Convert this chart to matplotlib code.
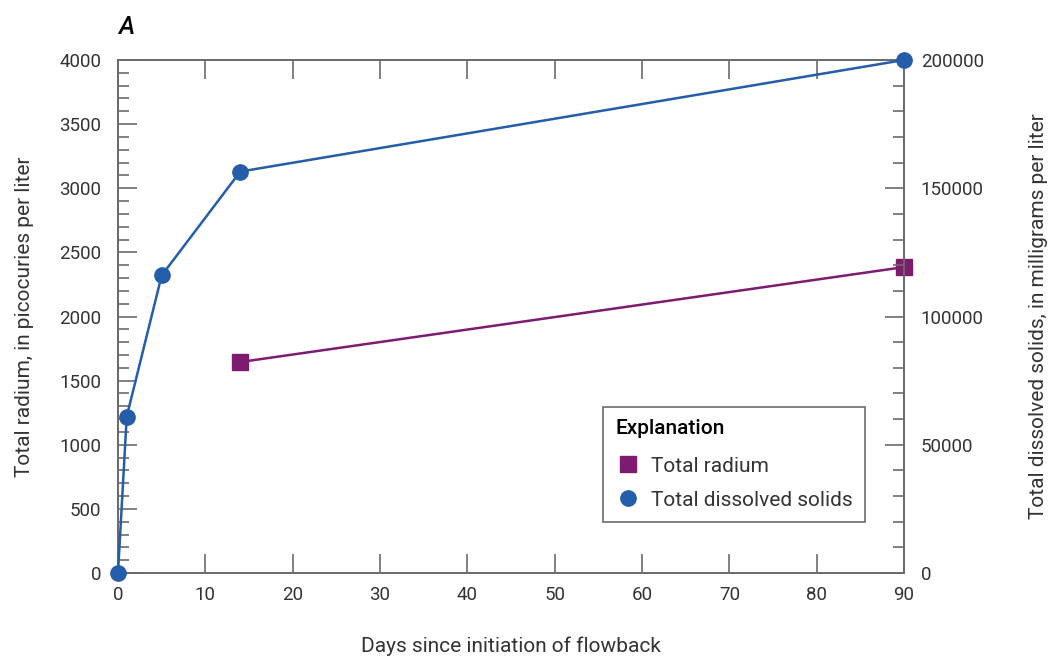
import matplotlib
matplotlib.use("Agg")
import matplotlib.pyplot as plt
from matplotlib.ticker import MultipleLocator
from matplotlib.lines import Line2D

# Data
tds_days = [0, 1, 5, 14, 90]
tds_values = [0, 61000, 116000, 156500, 200000]
radium_days = [14, 90]
radium_values = [1645, 2385]

x_ticks = [0, 10, 20, 30, 40, 50, 60, 70, 80, 90]
left_ticks = [0, 500, 1000, 1500, 2000, 2500, 3000, 3500, 4000]
right_ticks = [0, 50000, 100000, 150000, 200000]

blue = "#245DAA"
purple = "#7D1B6E"
gray = "#6b6b6b"
textc = "#333333"

plt.rcParams['font.family'] = ['Roboto', 'DejaVu Sans']
plt.rcParams['font.size'] = 14

fig = plt.figure(figsize=(10.49, 6.59), dpi=100)
ax = fig.add_axes([118/1049, 1-573/659, (904-118)/1049, (573-60)/659])
ax2 = ax.twinx()

ax.set_xlim(0, 90)
ax.set_ylim(0, 4000)
ax2.set_ylim(0, 200000)

ax.set_xticks(x_ticks)
ax.set_yticks(left_ticks)
ax.yaxis.set_minor_locator(MultipleLocator(100))
ax2.set_yticks(right_ticks)
ax2.yaxis.set_minor_locator(MultipleLocator(10000))

tick_fs = 13.5
ax.tick_params(axis='x', which='major', direction='in', length=14, width=1.2,
               color=gray, top=True, labelcolor=textc, labelsize=tick_fs, pad=9)
ax.tick_params(axis='y', which='major', direction='in', length=14, width=1.2,
               color=gray, labelcolor=textc, labelsize=tick_fs, pad=12)
ax.tick_params(axis='y', which='minor', direction='in', length=8, width=1.2, color=gray)
ax2.tick_params(axis='y', which='major', direction='in', length=14, width=1.2,
                color=gray, labelcolor=textc, labelsize=tick_fs, pad=12)
ax2.tick_params(axis='y', which='minor', direction='in', length=8, width=1.2, color=gray)

for a in (ax, ax2):
    for s in a.spines.values():
        s.set_color(gray)
        s.set_linewidth(1.3)

ax.plot(radium_days, radium_values, color=purple, lw=1.8, marker='s',
        markersize=11, clip_on=False, zorder=5)
ax2.plot(tds_days, tds_values, color=blue, lw=1.8, marker='o',
         markersize=11, clip_on=False, zorder=5)

lab_fs = 15
ax.set_xlabel("Days since initiation of flowback", color=textc, fontsize=lab_fs,
              labelpad=24)
ax.set_ylabel("Total radium, in picocuries per liter", color=textc, fontsize=lab_fs,
              labelpad=18)
ax2.set_ylabel("Total dissolved solids, in milligrams per liter", color=textc,
               fontsize=lab_fs, labelpad=46, rotation=90, va='bottom')

fig.text(118/1049, 1-27/659, "A", fontsize=18, fontstyle='italic', fontweight='medium',
         color='black', va='center', ha='left')

handles = [
    Line2D([], [], color=purple, marker='s', linestyle='none', markersize=11),
    Line2D([], [], color=blue, marker='o', linestyle='none', markersize=11),
]
leg = ax2.legend(handles, ["Total radium", "Total dissolved solids"],
                 title="Explanation", loc='upper left',
                 bbox_to_anchor=(603/1049, 1-407/659), bbox_transform=fig.transFigure,
                 borderaxespad=0, fancybox=False, edgecolor=gray, framealpha=1,
                 prop={'size': lab_fs},
                 title_fontproperties={'weight': 'medium', 'size': lab_fs},
                 alignment='left', handletextpad=0.5, borderpad=0.6,
                 labelspacing=0.72, handlelength=1.2)
leg.get_frame().set_linewidth(1.2)
leg.get_title().set_color('black')
leg._legend_box.sep = 13
for t in leg.get_texts():
    t.set_color(textc)

fig.savefig("out.png", dpi=100)
